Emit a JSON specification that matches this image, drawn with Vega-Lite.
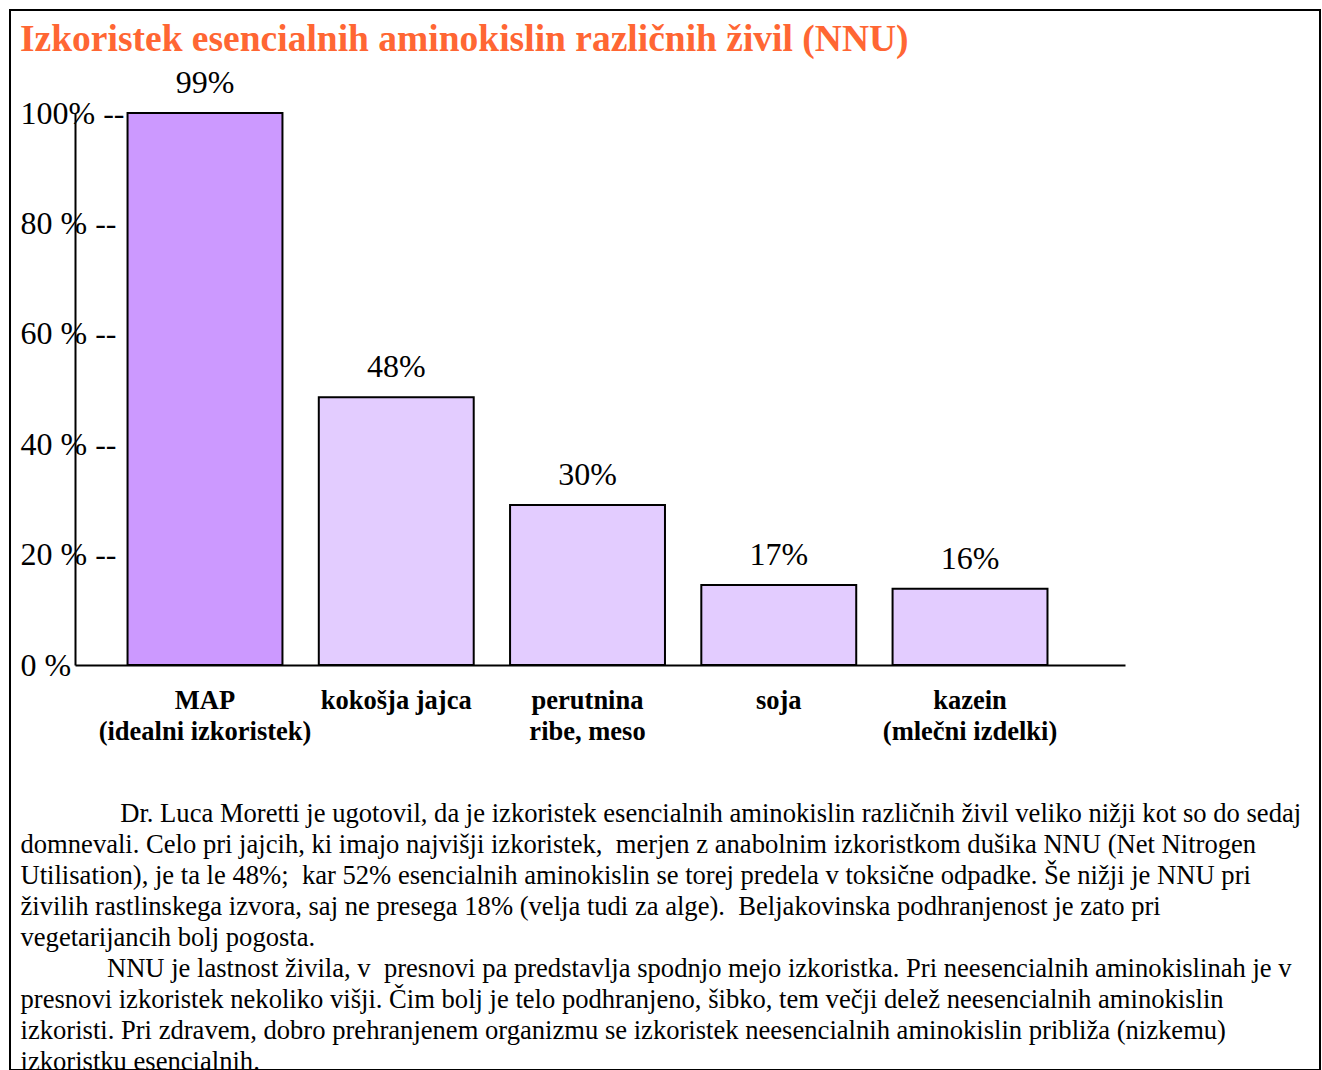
{
  "$schema": "https://vega.github.io/schema/vega-lite/v6.json",
  "autosize": {"type": "none"},
  "width": 1310,
  "height": 1060,
  "padding": {"left": 10, "top": 10, "right": 2, "bottom": 0},
  "background": "white",
  "title": {
    "text": "Izkoristek esencialnih aminokislin različnih živil (NNU)",
    "anchor": "start",
    "frame": "group",
    "orient": "top",
    "font": "Liberation Serif",
    "fontSize": 37.5,
    "fontWeight": "bold",
    "color": "#FF6633",
    "baseline": "alphabetic",
    "offset": 0,
    "dx": 10,
    "dy": 78
  },
  "config": {
    "view": {"stroke": "black", "strokeWidth": 2},
    "axis": {"grid": false, "labelFont": "Liberation Serif", "titleFont": "Liberation Serif", "labelColor": "black", "titleColor": "black", "domainColor": "black", "domainWidth": 2}
  },
  "data": {
    "values": [
      {"zivilo": "MAP\n(idealni izkoristek)", "vrsta": "idealni", "visina": 100, "oznaka": "99%"},
      {"zivilo": "kokošja jajca", "vrsta": "zivilo", "visina": 48.5, "oznaka": "48%"},
      {"zivilo": "perutnina\nribe, meso", "vrsta": "zivilo", "visina": 29, "oznaka": "30%"},
      {"zivilo": "soja", "vrsta": "zivilo", "visina": 14.5, "oznaka": "17%"},
      {"zivilo": "kazein\n(mlečni izdelki)", "vrsta": "zivilo", "visina": 13.8, "oznaka": "16%"}
    ]
  },
  "encoding": {
    "x": {
      "field": "zivilo",
      "type": "nominal",
      "sort": null,
      "scale": {"range": [65, 1115], "paddingInner": 0.19, "paddingOuter": 0.34, "align": 0.404},
      "axis": {
        "orient": "bottom",
        "offset": -405,
        "ticks": false,
        "labelAngle": 0,
        "labelExpr": "split(datum.label, '\\n')",
        "labelFontSize": 26.5,
        "labelFontWeight": "bold",
        "labelBaseline": "top",
        "labelPadding": 22,
        "labelLineHeight": 31,
        "labelLimit": 0,
        "labelOverlap": false,
        "labelBound": false,
        "labelFlush": false,
        "title": [
          "\u200b\u00a0\u00a0\u00a0\u00a0\u00a0\u00a0\u00a0\u00a0\u00a0\u00a0\u00a0\u00a0\u00a0\u00a0 Dr. Luca Moretti je ugotovil, da je izkoristek esencialnih aminokislin različnih živil veliko nižji kot so do sedaj",
          "domnevali. Celo pri jajcih, ki imajo najvišji izkoristek,\u00a0 merjen z anabolnim izkoristkom dušika NNU (Net Nitrogen",
          "Utilisation), je ta le 48%;\u00a0 kar 52% esencialnih aminokislin se torej predela v toksične odpadke. Še nižji je NNU pri",
          "živilih rastlinskega izvora, saj ne presega 18% (velja tudi za alge).\u00a0 Beljakovinska podhranjenost je zato pri",
          "vegetarijancih bolj pogosta.",
          "\u200b\u00a0\u00a0\u00a0\u00a0\u00a0\u00a0\u00a0\u00a0\u00a0\u00a0\u00a0\u00a0\u00a0NNU je lastnost živila, v\u00a0 presnovi pa predstavlja spodnjo mejo izkoristka. Pri neesencialnih aminokislinah je v",
          "presnovi izkoristek nekoliko višji. Čim bolj je telo podhranjeno, šibko, tem večji delež neesencialnih aminokislin",
          "izkoristi. Pri zdravem, dobro prehranjenem organizmu se izkoristek neesencialnih aminokislin približa (nizkemu)",
          "izkoristku esencialnih."
        ],
        "titleFontSize": 26.6,
        "titleFontWeight": "normal",
        "titleAlign": "left",
        "titleBaseline": "top",
        "titleAnchor": "start",
        "titleLimit": 0,
        "titleX": 10,
        "titleY": 135,
        "titleLineHeight": 31
      }
    }
  },
  "layer": [
    {
      "mark": {"type": "bar", "stroke": "black", "strokeWidth": 2},
      "encoding": {
        "y": {
          "field": "visina",
          "type": "quantitative",
          "scale": {"domain": [0, 100], "range": [655, 103], "nice": false, "zero": true},
          "axis": {
            "orient": "left",
            "offset": -65,
            "values": [0, 20, 40, 60, 80, 100],
            "ticks": false,
            "labelAlign": "left",
            "labelBaseline": "middle",
            "labelPadding": 55,
            "labelFontSize": 32,
            "labelExpr": "datum.value == 100 ? '100% --' : datum.value == 0 ? '0 %' : datum.value + ' % --'",
            "labelOverlap": false,
            "labelBound": false,
            "labelFlush": false,
            "title": null
          }
        },
        "color": {
          "field": "vrsta",
          "type": "nominal",
          "scale": {"domain": ["idealni", "zivilo"], "range": ["#CC99FF", "#E3CCFF"]},
          "legend": null
        }
      }
    },
    {
      "mark": {"type": "text", "font": "Liberation Serif", "fontSize": 32, "color": "black", "baseline": "alphabetic", "dy": -20},
      "encoding": {
        "y": {"field": "visina", "type": "quantitative"},
        "text": {"field": "oznaka", "type": "nominal"}
      }
    }
  ]
}
